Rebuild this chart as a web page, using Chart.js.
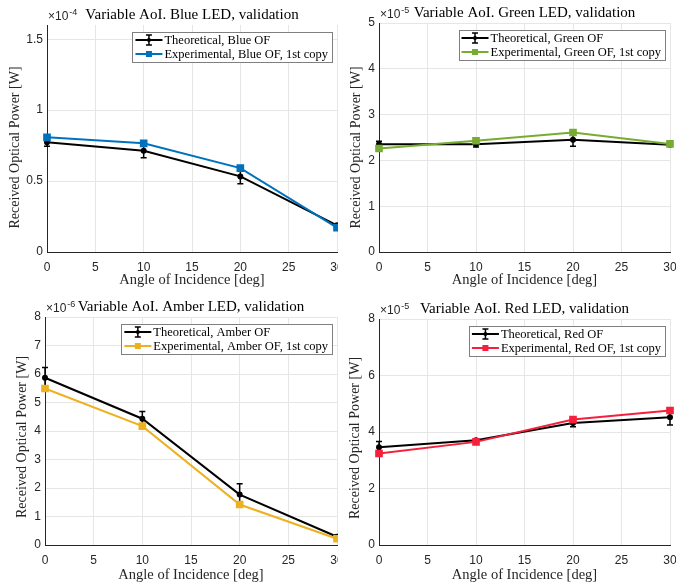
<!DOCTYPE html>
<html>
<head>
<meta charset="utf-8">
<script src="https://cdn.jsdelivr.net/npm/chart.js@4.4.0/dist/chart.umd.min.js"></script>
<style>
  html, body { margin: 0; padding: 0; background: #fff; }
  #wrap { position: relative; width: 676px; height: 586px; }
  .cell { position: absolute; width: 338px; height: 293px; }
</style>
</head>
<body>
<div id="wrap">
  <div class="cell" style="left:0;top:0"><canvas id="blue" width="338" height="293"></canvas></div>
  <div class="cell" style="left:338px;top:0"><canvas id="green" width="338" height="293"></canvas></div>
  <div class="cell" style="left:0;top:293px"><canvas id="amber" width="338" height="293"></canvas></div>
  <div class="cell" style="left:338px;top:293px"><canvas id="red" width="338" height="293"></canvas></div>
</div>
<script>
// angles of incidence [deg], same for every panel
const angles = [0, 10, 20, 30];
const xTicks = [0, 5, 10, 15, 20, 25, 30];

// values are in units of 10^exp W
// blue LED, x10^-4
const blueTheo = [0.773, 0.714, 0.533, 0.188];
const blueErr  = [0.027, 0.049, 0.052, 0.012];
const blueExp  = [0.808, 0.766, 0.591, 0.172];
const blueTicks = [0, 0.5, 1, 1.5];

// green LED, x10^-5
const greenTheo = [2.35, 2.35, 2.45, 2.34];
const greenErr  = [0.07, 0.06, 0.14, 0.03];
const greenExp  = [2.26, 2.43, 2.61, 2.36];
const greenTicks = [0, 1, 2, 3, 4, 5];

// amber LED, x10^-6
const amberTheo = [5.87, 4.43, 1.77, 0.29];
const amberErr  = [0.36, 0.25, 0.38, 0.05];
const amberExp  = [5.49, 4.17, 1.42, 0.22];
const amberTicks = [0, 1, 2, 3, 4, 5, 6, 7, 8];

// red LED, x10^-5
const redTheo = [3.46, 3.71, 4.32, 4.52];
const redErr  = [0.20, 0.05, 0.13, 0.27];
const redExp  = [3.24, 3.65, 4.44, 4.76];
const redTicks = [0, 2, 4, 6, 8];

const SANS = '"Liberation Sans", Arial, sans-serif';
const SERIF = '"Liberation Serif", "Times New Roman", serif';
const AXIS = '#262626';

// error bars, drawn right after the theoretical line
const errorBars = {
  id: 'errorBars',
  afterDatasetDraw(chart, args) {
    const ds = chart.data.datasets[args.index];
    if (!ds.errors) return;
    const {ctx, scales: {x, y}} = chart;
    ctx.save();
    ctx.strokeStyle = ds.borderColor;
    ctx.lineWidth = 1.5;
    ds.data.forEach((pt, i) => {
      const px = x.getPixelForValue(pt.x);
      const top = y.getPixelForValue(pt.y + ds.errors[i]);
      const bot = y.getPixelForValue(pt.y - ds.errors[i]);
      ctx.beginPath();
      ctx.moveTo(px, top); ctx.lineTo(px, bot);
      ctx.moveTo(px - 3, top); ctx.lineTo(px + 3, top);
      ctx.moveTo(px - 3, bot); ctx.lineTo(px + 3, bot);
      ctx.stroke();
    });
    ctx.restore();
  }
};

// exponent, title and y label around the axes
const header = {
  id: 'header',
  afterDraw(chart, args, opts) {
    const {ctx, chartArea} = chart;
    ctx.save();
    ctx.fillStyle = AXIS;
    ctx.textBaseline = 'alphabetic';
    ctx.font = '12px ' + SANS;
    ctx.fillText('\u00d710', chartArea.left + 1, chartArea.top - 5);
    const w = ctx.measureText('\u00d710').width;
    ctx.font = '9px ' + SANS;
    ctx.fillText('-' + opts.exp, chartArea.left + 1 + w + 1, chartArea.top - 10);
    ctx.fillStyle = '#000';
    ctx.font = '15px ' + SERIF;
    ctx.textAlign = 'center';
    ctx.fillText(opts.title, (chartArea.left + chartArea.right) / 2, chartArea.top - 6);
    // y label
    ctx.fillStyle = AXIS;
    ctx.font = '14px ' + SERIF;
    ctx.textBaseline = 'middle';
    ctx.translate(opts.yLabelX, (chartArea.top + chartArea.bottom) / 2 + opts.yShift);
    ctx.rotate(-Math.PI / 2);
    ctx.fillText('Received Optical Power [W]', 0, 0);
    ctx.restore();
  }
};

// boxed legend in the top right corner of the axes
const boxLegend = {
  id: 'boxLegend',
  afterDraw(chart) {
    const {ctx, chartArea} = chart;
    const sets = chart.data.datasets;
    ctx.save();
    ctx.font = '12.5px ' + SERIF;
    const textW = Math.max(...sets.map(d => ctx.measureText(d.label).width));
    const w = 32 + textW + 4;
    const h = 30;
    const bx = chartArea.right - 5 - w;
    const by = chartArea.top + 7;
    ctx.fillStyle = '#fff';
    ctx.fillRect(bx, by, w, h);
    ctx.strokeStyle = '#7f7f7f';
    ctx.lineWidth = 1;
    ctx.strokeRect(Math.round(bx) + 0.5, Math.round(by) + 0.5, Math.round(w), h);
    sets.forEach((d, i) => {
      const cy = by + 8 + i * 14;
      const x0 = bx + 3, x1 = bx + 30, cx = (x0 + x1) / 2;
      ctx.strokeStyle = d.borderColor;
      ctx.lineWidth = 2;
      ctx.beginPath(); ctx.moveTo(x0, cy); ctx.lineTo(x1, cy); ctx.stroke();
      if (d.errors) {
        ctx.lineWidth = 1.5;
        ctx.beginPath();
        ctx.moveTo(cx, cy - 5); ctx.lineTo(cx, cy + 5);
        ctx.moveTo(cx - 3, cy - 5); ctx.lineTo(cx + 3, cy - 5);
        ctx.moveTo(cx - 3, cy + 5); ctx.lineTo(cx + 3, cy + 5);
        ctx.stroke();
        ctx.fillStyle = d.borderColor;
        ctx.beginPath(); ctx.arc(cx, cy, 2, 0, Math.PI * 2); ctx.fill();
      } else {
        ctx.fillStyle = d.borderColor;
        ctx.fillRect(cx - 3, cy - 3, 6, 6);
      }
      ctx.fillStyle = '#000';
      ctx.textBaseline = 'middle';
      ctx.fillText(d.label, bx + 32, cy + 1);
    });
    ctx.restore();
  }
};

function makeChart(id, p) {
  new Chart(document.getElementById(id), {
    type: 'line',
    data: {
      datasets: [
        {
          label: 'Theoretical, ' + p.name + ' OF',
          data: p.theo.map((v, i) => ({x: angles[i], y: v})),
          errors: p.err,
          borderColor: '#000', backgroundColor: '#000',
          borderWidth: 2, pointRadius: 2, pointStyle: 'circle',
          order: 1, clip: false
        },
        {
          label: 'Experimental, ' + p.name + ' OF, 1st copy',
          data: p.exp.map((v, i) => ({x: angles[i], y: v})),
          borderColor: p.color, backgroundColor: p.color,
          borderWidth: 2, pointRadius: 4, pointStyle: 'rect',
          order: 0, clip: false
        }
      ]
    },
    options: {
      responsive: false,
      animation: false,
      layout: {autoPadding: false, padding: {top: p.top, right: p.right, left: 0, bottom: 0}},
      plugins: {
        legend: {display: false},
        tooltip: {enabled: false},
        header: {title: 'Variable AoI. ' + p.name + ' LED, validation', exp: p.exp10,
                 yLabelX: p.yLabelX, yShift: p.yShift}
      },
      scales: {
        x: {
          type: 'linear', min: 0, max: 30,
          afterBuildTicks: s => { s.ticks = xTicks.map(v => ({value: v})); },
          afterFit: s => { s.height = 41; s.paddingLeft = 0; s.paddingRight = 0; },
          grid: {color: '#e6e6e6', drawTicks: false},
          border: {color: AXIS, width: 1},
          ticks: {color: AXIS, font: {family: SANS, size: 12}, padding: 8, maxRotation: 0},
          title: {display: true, text: 'Angle of Incidence [deg]', color: AXIS,
                  font: {family: SERIF, size: 14.5}, padding: {top: 0, bottom: p.xPad}}
        },
        y: {
          min: 0, max: p.max,
          afterBuildTicks: s => { s.ticks = p.ticks.map(v => ({value: v})); },
          afterFit: s => { s.width = p.yWidth; s.paddingTop = 0; s.paddingBottom = 0; },
          grid: {color: '#e6e6e6', drawTicks: false},
          border: {color: AXIS, width: 1},
          ticks: {color: AXIS, font: {family: SANS, size: 12}, padding: 4,
                  callback: v => String(v)}
        }
      }
    },
    plugins: [errorBars, header, boxLegend]
  });
}

makeChart('blue', {name: 'Blue', color: '#0072bd', theo: blueTheo, err: blueErr, exp: blueExp,
  ticks: blueTicks, max: 1.6, exp10: 4, top: 25, right: 1, yWidth: 47, xPad: 4.4,
  yLabelX: 15, yShift: 9});
makeChart('green', {name: 'Green', color: '#77ac30', theo: greenTheo, err: greenErr, exp: greenExp,
  ticks: greenTicks, max: 5, exp10: 5, top: 23, right: 6, yWidth: 41, xPad: 4.4,
  yLabelX: 18, yShift: 10});
makeChart('amber', {name: 'Amber', color: '#edb120', theo: amberTheo, err: amberErr, exp: amberExp,
  ticks: amberTicks, max: 8, exp10: 6, top: 24, right: 1, yWidth: 45, xPad: 2.4,
  yLabelX: 22, yShift: 6});
makeChart('red', {name: 'Red', color: '#f5213c', theo: redTheo, err: redErr, exp: redExp,
  ticks: redTicks, max: 8, exp10: 5, top: 26, right: 6, yWidth: 41, xPad: 2.4,
  yLabelX: 17.5, yShift: 6});
</script>
</body>
</html>
